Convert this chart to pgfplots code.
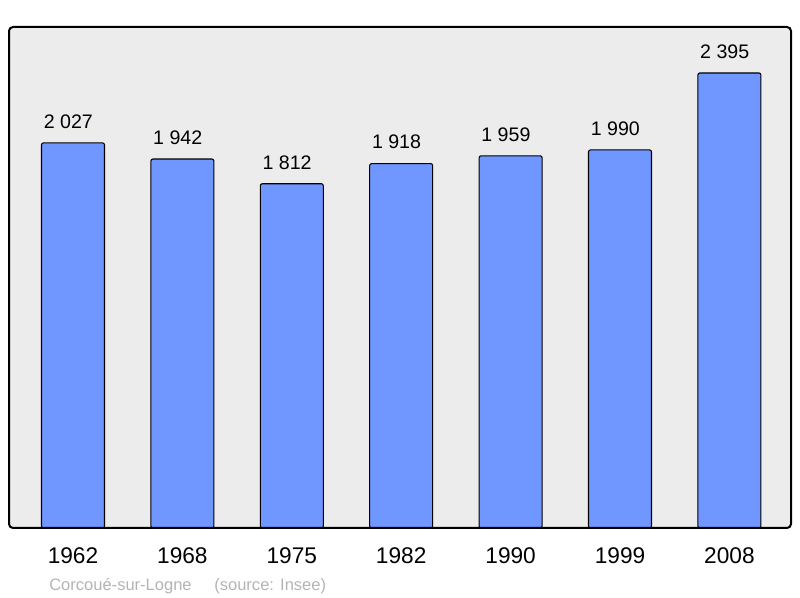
\documentclass[border=0pt]{standalone}
\usepackage{fontspec}
\setmainfont{Liberation Sans}
\usepackage{pgfplots}
\pgfplotsset{compat=1.18}
\definecolor{barBlue}{HTML}{7096FF}
\definecolor{panelGray}{HTML}{ECECEC}
\definecolor{noteGray}{HTML}{B4B4B4}

\begin{document}
\begin{tikzpicture}
    % whole picture: 800 x 598 px at 0.75pt per px
    \useasboundingbox (-6.75pt,-52.5pt) rectangle (593.25pt,396pt);
    \begin{axis}[
        scale only axis, width=586.5pt, height=375.75pt,
        xmin=-0.585, xmax=6.563, ymin=0, ymax=2637,
        axis line style={draw=none},
        axis background/.style={fill=panelGray, rounded corners=3pt},
        ytick=\empty,
        xtick=data, major tick length=0pt,
        xticklabels={1962,1968,1975,1982,1990,1999,2008},
        xticklabel style={font=\fontsize{17}{20}\selectfont, anchor=base, yshift=-27pt},
        ybar, bar width=0.576,
        clip=false,
        nodes near coords={\pgfmathprintnumber{\pgfplotspointmeta}},
        every node near coord/.append style={
            font=\fontsize{14.7}{17}\selectfont, anchor=base, yshift=11pt, xshift=-3.5pt,
            /pgf/number format/.cd, 1000 sep={\ }, assume math mode=true},
    ]
        % population by census year
        \addplot[fill=barBlue, draw=black, line width=0.8pt, rounded corners=1.5pt] coordinates {
            (0,2027) (1,1942) (2,1812) (3,1918) (4,1959) (5,1990) (6,2395)
        };
        \draw[line width=1.5pt, rounded corners=3pt] (rel axis cs:0,0) rectangle (rel axis cs:1,1);
        \node[anchor=base west, text=noteGray, font=\fontsize{12.4}{14}\selectfont,
              xshift=30pt, yshift=-47.25pt, inner sep=0pt] at (rel axis cs:0,0)
              {Corcoué-sur-Logne\hspace{17pt}(source: Insee)};
    \end{axis}
\end{tikzpicture}
\end{document}
